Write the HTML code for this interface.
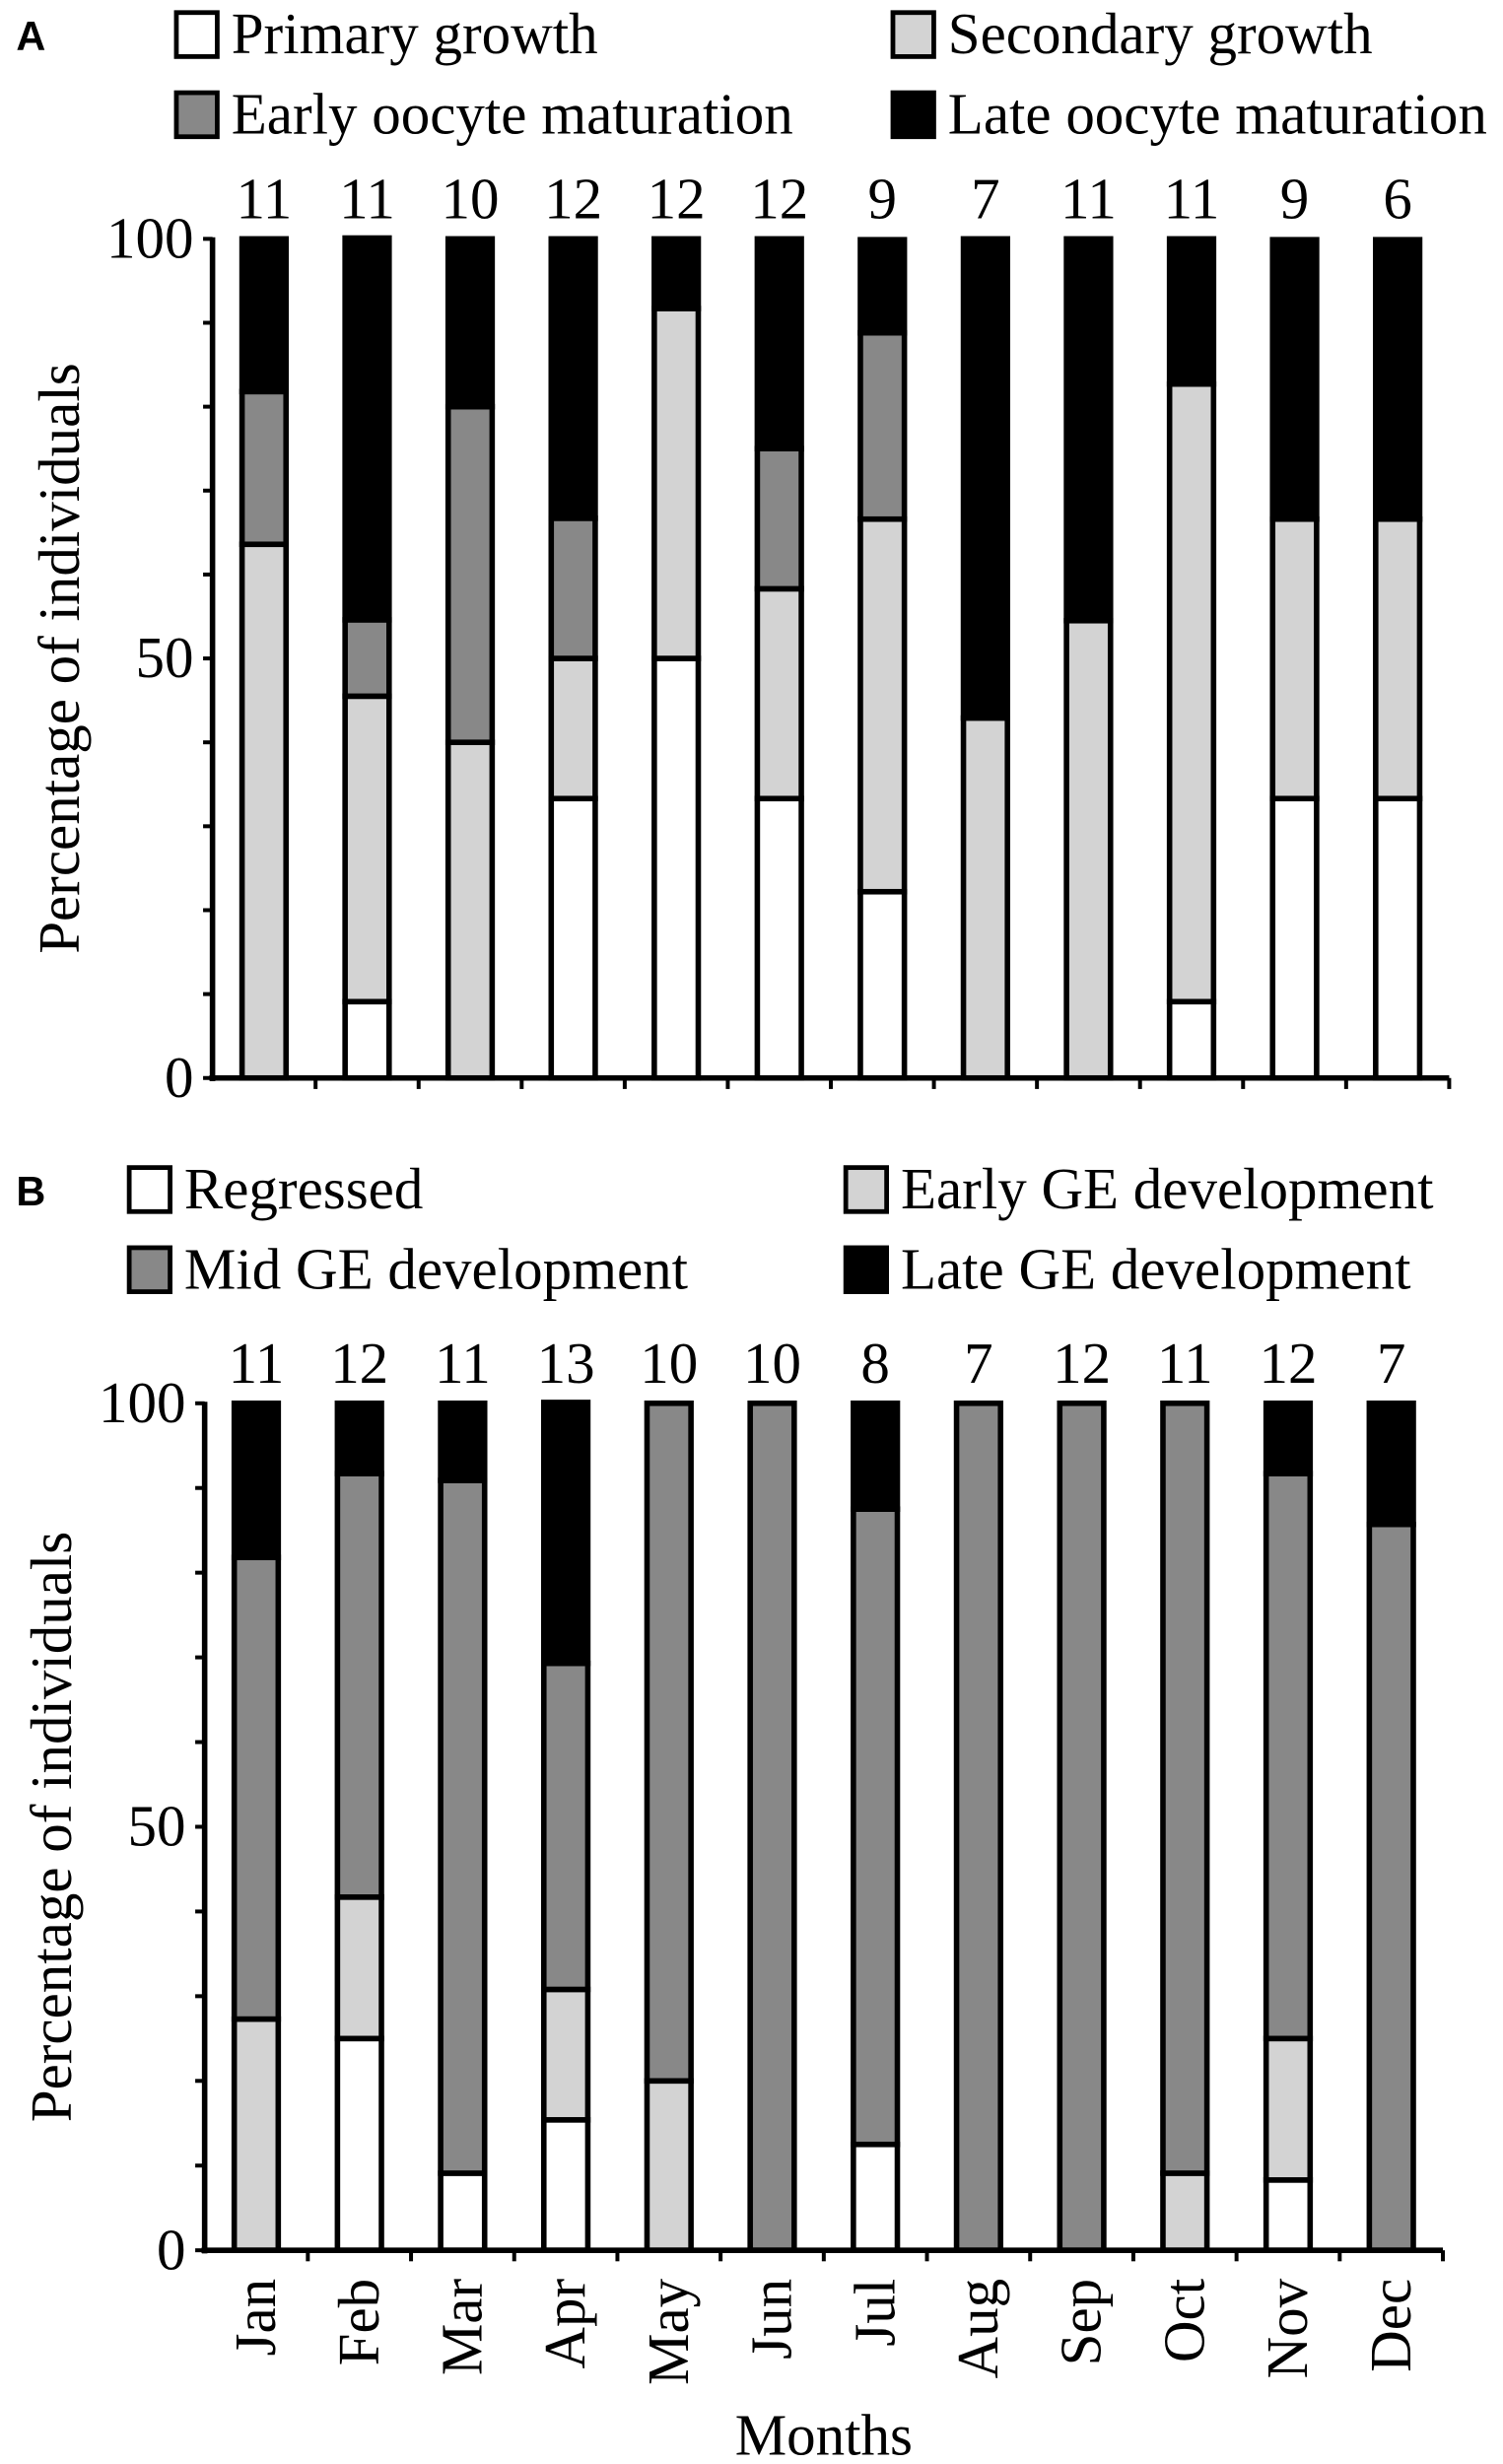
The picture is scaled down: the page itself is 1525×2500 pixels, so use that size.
<!DOCTYPE html>
<html><head><meta charset="utf-8">
<style>
html,body{margin:0;padding:0;background:#fff;}
svg{display:block;}
text{font-family:"Liberation Serif",serif;fill:#000;}
text.pl{font-family:"Liberation Sans",sans-serif;font-weight:bold;}
</style></head>
<body>
<svg id="fig" width="1525" height="2500" viewBox="0 0 956 1568" xmlns="http://www.w3.org/2000/svg" font-family="Liberation Serif, serif"></svg>
<script>
const months = ["Jan","Feb","Mar","Apr","May","Jun","Jul","Aug","Sep","Oct","Nov","Dec"];
const colors = ["#ffffff","#d3d3d3","#888888","#000000"];
const yTicks = [0,50,100];
// Panel A
const labelsA = ["Primary growth","Secondary growth","Early oocyte maturation","Late oocyte maturation"];
const countsA = [11,11,10,12,12,12,9,7,11,11,9,6];
const primaryA   = [0,9.1,0,33.3,50,33.3,22.2,0,0,9.1,33.3,33.3];
const secondaryA = [63.6,36.4,40,16.7,41.7,25,44.4,42.9,54.5,73.6,33.3,33.3];
const earlyA     = [18.2,9.1,40,16.7,0,16.7,22.2,0,0,0,0,0];
const lateA      = [18.2,45.5,20,33.3,8.3,25,11.1,57.1,45.5,17.3,33.3,33.3];
// Panel B
const labelsB = ["Regressed","Early GE development","Mid GE development","Late GE development"];
const countsB = [11,12,11,13,10,10,8,7,12,11,12,7];
const regressedB = [0,25,9.1,15.4,0,0,12.5,0,0,0,8.3,0];
const earlyB     = [27.3,16.7,0,15.4,20,0,0,0,0,9.1,16.7,0];
const midB       = [54.5,50,81.8,38.5,80,100,75,100,100,90.9,66.7,85.7];
const lateB      = [18.2,8.3,9.1,30.8,0,0,12.5,0,0,0,8.3,14.3];

const NS="http://www.w3.org/2000/svg";
const svg=document.getElementById('fig');
const SERIF='Liberation Serif, serif';
function mk(tag,attrs,parent){const e=document.createElementNS(NS,tag);for(const k in attrs)e.setAttribute(k,attrs[k]);(parent||svg).appendChild(e);return e;}
function tx(attrs,parent){attrs['font-family']=attrs['font-family']||SERIF;return mk('text',attrs,parent);}

function panel(cfg){
  const g=mk('g',{});
  
  
  const x0=cfg.ax, x1=cfg.ax2, yTop=cfg.y100, yBot=cfg.y0;
  const cw=(x1-x0)/months.length;
  const xc=i=>x0+cw*(i+0.5);
  const ys=v=>yBot-(yBot-yTop)*v/100;
  const bw=28;
  const L=tx({x:10,y:cfg.legY1+10,'font-size':26,'font-family':'Liberation Sans, sans-serif','font-weight':'bold',class:'pl'},g);L.textContent=cfg.letter;
  
  
  const pos=[[cfg.lc1,cfg.legY1],[cfg.lc2,cfg.legY1],[cfg.lc1,cfg.legY2],[cfg.lc2,cfg.legY2]];
  cfg.legOrder.forEach((si,k)=>{
    const [lx,ly]=pos[k];
    const lg=mk('g',{},g);
    
    
    mk('rect',{x:lx,y:ly-14,width:26,height:28,fill:colors[si],stroke:'#000','stroke-width':3},lg);
    const t=tx({x:lx+35,y:ly+12,'font-size':37},lg);t.textContent=cfg.labels[si];
  });
  for(let v=0;v<=100;v+=10){
    mk('line',{x1:x0-6,x2:x0,y1:ys(v),y2:ys(v),stroke:'#000','stroke-width':2.5},g);
  }
  yTicks.forEach(v=>{
    const t=tx({x:x0-12,y:ys(v)+12,'font-size':37,'text-anchor':'end'},g);t.textContent=v;
    
    
  });
  const yt=tx({x:0,y:0,'font-size':37,'text-anchor':'middle',transform:`translate(${x0-85},${(yTop+yBot)/2}) rotate(-90)`},g);
  yt.textContent='Percentage of individuals';
  
  
  months.forEach((m,i)=>{
    const bg=mk('g',{},g);
    
    
    let acc=0;
    cfg.series.forEach((s,si)=>{
      const v=s[i];
      if(v>0){
        mk('rect',{x:xc(i)-bw/2,y:ys(acc+v),width:bw,height:ys(acc)-ys(acc+v),fill:colors[si],stroke:'#000','stroke-width':3.5},bg);
      }
      acc+=v;
    });
    const c=tx({x:xc(i),y:yTop-13,'font-size':37,'text-anchor':'middle'},g);c.textContent=cfg.counts[i];
    
    
    mk('line',{x1:x0+cw*(i+1),x2:x0+cw*(i+1),y1:yBot,y2:yBot+7,stroke:'#000','stroke-width':2.5},g);
    if(cfg.monthLabels){
      const t=tx({x:0,y:0,'font-size':37,'text-anchor':'end',transform:`translate(${xc(i)+12},${yBot+18}) rotate(-90)`},g);
      t.textContent=m;
      
      
    }
  });
  const ya=mk('line',{x1:x0,x2:x0,y1:yTop-1,y2:yBot+2,stroke:'#000','stroke-width':3.5},g);
  
  
  const xa=mk('line',{x1:x0-2,x2:x1,y1:yBot,y2:yBot,stroke:'#000','stroke-width':3.5},g);
  
  
  if(cfg.monthLabels){
    const t=tx({x:(x0+x1)/2,y:1562,'font-size':37,'text-anchor':'middle'},g);t.textContent='Months';
    
    
  }
}
panel({name:'panel-a',letter:'A',ax:135,ax2:922,y100:152,y0:686,legY1:22,legY2:73,lc1:112,lc2:568,
  labels:labelsA,legOrder:[0,1,2,3],counts:countsA,series:[primaryA,secondaryA,earlyA,lateA],monthLabels:false});
panel({name:'panel-b',letter:'B',ax:130,ax2:918,y100:893,y0:1432,legY1:757,legY2:808,lc1:82,lc2:538,
  labels:labelsB,legOrder:[0,1,2,3],counts:countsB,series:[regressedB,earlyB,midB,lateB],monthLabels:true});
</script>
</body></html>
